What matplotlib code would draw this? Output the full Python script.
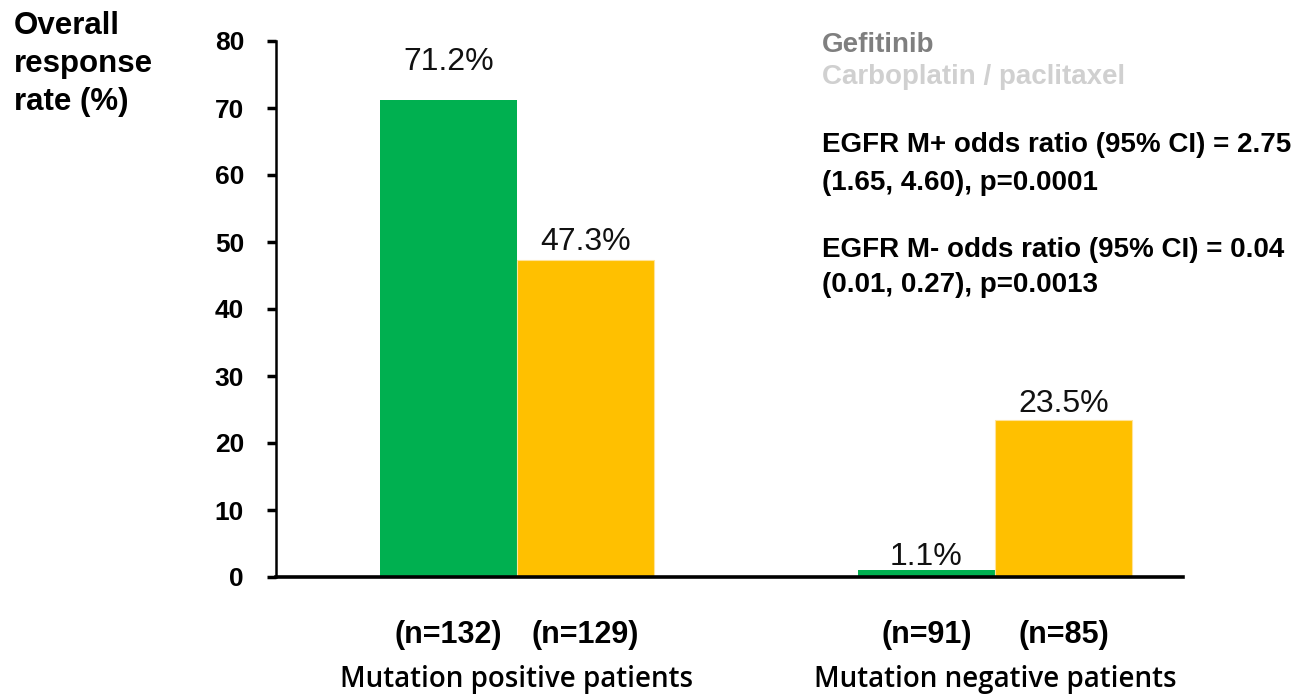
import matplotlib.pyplot as plt

plt.rcParams['font.family'] = ['Liberation Sans', 'DejaVu Sans']

# response rates (%) per subgroup
groups = ['Mutation positive patients', 'Mutation negative patients']
gefitinib = [71.2, 1.1]
carbo_pacli = [47.3, 23.5]
n_gefitinib = [132, 91]
n_carbo = [129, 85]
yticks = [0, 10, 20, 30, 40, 50, 60, 70, 80]

green = '#00b050'
yellow = '#ffc000'
width = 0.287
W, H = 1305, 694

fig = plt.figure(figsize=(W / 100, H / 100), dpi=100)
ax = fig.add_axes([276 / W, 1 - 577 / H, 907 / W, 536 / H])


def px(x, y):
    # pixel position (from top-left) -> figure fraction
    return x / W, 1 - y / H


xs = list(range(len(groups)))
x_g = [x - width / 2 for x in xs]
x_c = [x + width / 2 for x in xs]
ax.bar(x_g, gefitinib, width, color=green, zorder=2)
ax.bar(x_c, carbo_pacli, width, color=yellow, edgecolor='#ffe39a',
       linewidth=0.8, zorder=2)

# percentage labels above the bars (baseline offsets in points)
pad_g = [21.5, 3.6]
pad_c = [7.0, 5.4]
for x, v, p in zip(x_g, gefitinib, pad_g):
    ax.annotate(f'{v}%', (x, v), xytext=(0, p), textcoords='offset points',
                ha='center', va='baseline', fontsize=23, color='#111111')
for x, v, p in zip(x_c, carbo_pacli, pad_c):
    ax.annotate(f'{v}%', (x, v), xytext=(0, p), textcoords='offset points',
                ha='center', va='baseline', fontsize=23, color='#111111')

ax.set_xlim(-0.504, 1.393)
ax.set_ylim(0, 80)
ax.set_yticks(yticks)
ax.set_yticklabels([str(t) for t in yticks], fontsize=19, fontweight='bold')
ax.tick_params(axis='y', length=6.5, width=2.5, pad=16.5)
ax.set_xticks([])

for s in ['top', 'right']:
    ax.spines[s].set_visible(False)
ax.spines['left'].set_linewidth(1.8)
ax.spines['bottom'].set_linewidth(2.6)
ax.spines['bottom'].set_zorder(3)

# sample sizes and group names under the axis
for xg, xc, ng, nc, name in zip(x_g, x_c, n_gefitinib, n_carbo, groups):
    ax.text(xg, -9.85, f'(n={ng})', ha='center', va='baseline',
            fontsize=22, fontweight='bold')
    ax.text(xc, -9.85, f'(n={nc})', ha='center', va='baseline',
            fontsize=22, fontweight='bold')
    ax.text((xg + xc) / 2, -16.4, name, ha='center', va='baseline',
            fontsize=20, fontweight='semibold',
            family=['Open Sans', 'DejaVu Sans'])

# y axis title, one line at a time
for line, base in zip(['Overall', 'response', 'rate (%)'], [34, 72, 110]):
    fig.text(*px(14, base), line, ha='left', va='baseline', fontsize=22.5,
             fontweight='bold')

# legend as coloured text
fig.text(*px(822, 52), 'Gefitinib', color='#7f7f7f', fontsize=20,
         fontweight='bold', va='baseline')
fig.text(*px(822, 84), 'Carboplatin / paclitaxel', color='#d0d0d0',
         fontsize=20, fontweight='bold', va='baseline')

stats = ['EGFR M+ odds ratio (95% CI) = 2.75', '(1.65, 4.60), p=0.0001',
         'EGFR M- odds ratio (95% CI) = 0.04', '(0.01, 0.27), p=0.0013']
for line, base in zip(stats, [152, 190, 257, 292]):
    fig.text(*px(822, base), line, fontsize=20, fontweight='bold',
             va='baseline')

fig.savefig('out.png', dpi=100)
